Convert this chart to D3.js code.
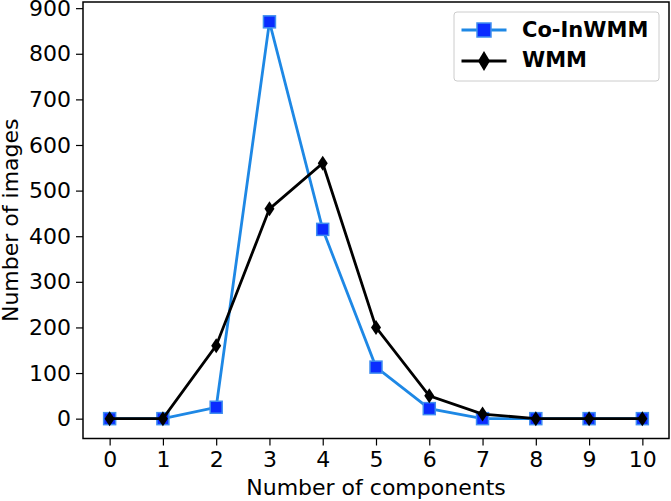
<!DOCTYPE html>
<html>
<head>
  <script src="https://d3js.org/d3.v7.min.js"></script>
  <style>
    body { margin: 0; background: #fff; }
    text { font-family: "DejaVu Sans", sans-serif; }
  </style>
</head>
<body>
  <div id="chart"></div>
  <script>
    // values
    const components = [0, 1, 2, 3, 4, 5, 6, 7, 8, 9, 10];
    const coInWMM = [0, 0, 25, 870, 415, 113, 22, 0, 0, 0, 0];
    const wmm = [0, 0, 160, 460, 560, 200, 50, 10, 0, 0, 0];
    const yTicks = [0, 100, 200, 300, 400, 500, 600, 700, 800, 900];

    const W = 671, H = 501;
    const plotL = 83, plotR = 669, plotT = 2, plotB = 438.5;
    const fs = "22px";

    const svg = d3.select("#chart").append("svg")
      .attr("width", W).attr("height", H);

    const x = d3.scaleLinear().domain([-0.5, 10.5]).range([plotL, plotR]);
    const y = d3.scaleLinear().domain([-43.5, 913.5]).range([plotB, plotT]);

    // axes
    const xAxis = svg.append("g")
      .attr("transform", "translate(0," + plotB + ")")
      .call(d3.axisBottom(x).tickValues(components).tickSize(7).tickPadding(6).tickFormat(d3.format("d")));
    const yAxis = svg.append("g")
      .attr("transform", "translate(" + plotL + ",0)")
      .call(d3.axisLeft(y).tickValues(yTicks).tickSize(7).tickPadding(5));

    [xAxis, yAxis].forEach(g => {
      g.select(".domain").remove();
      g.selectAll(".tick line").attr("stroke", "#000").attr("stroke-width", 1.2);
      g.selectAll(".tick text").attr("fill", "#000")
        .style("font-size", fs).style("font-family", "DejaVu Sans");
    });

    // frame
    svg.append("rect")
      .attr("x", plotL).attr("y", plotT)
      .attr("width", plotR - plotL).attr("height", plotB - plotT)
      .attr("fill", "none").attr("stroke", "#000").attr("stroke-width", 1.5);

    // axis labels
    svg.append("text")
      .attr("x", (plotL + plotR) / 2).attr("y", 495)
      .attr("text-anchor", "middle")
      .style("font-size", fs)
      .text("Number of components");
    svg.append("text")
      .attr("transform", "translate(18," + ((plotT + plotB) / 2) + ") rotate(-90)")
      .attr("text-anchor", "middle")
      .style("font-size", fs)
      .text("Number of images");

    const line = d3.line().x((d, i) => x(components[i])).y(d => y(d));

    // Co-InWMM
    svg.append("path").datum(coInWMM)
      .attr("d", line).attr("fill", "none")
      .attr("stroke", "#1e88e5").attr("stroke-width", 2.8);
    svg.selectAll(".sq").data(coInWMM).enter().append("rect")
      .attr("class", "sq")
      .attr("x", (d, i) => x(components[i]) - 6)
      .attr("y", d => y(d) - 6)
      .attr("width", 12).attr("height", 12)
      .attr("fill", "#0a2cff").attr("stroke", "#3f8ef0").attr("stroke-width", 1.5);

    // WMM
    svg.append("path").datum(wmm)
      .attr("d", line).attr("fill", "none")
      .attr("stroke", "#000").attr("stroke-width", 2.8);
    const diamond = "M0,-7.5L5,0L0,7.5L-5,0Z";
    svg.selectAll(".dm").data(wmm).enter().append("path")
      .attr("class", "dm")
      .attr("transform", (d, i) => "translate(" + x(components[i]) + "," + y(d) + ")")
      .attr("d", diamond).attr("fill", "#000");

    // legend (markers drawn a bit larger there)
    const lg = svg.append("g");
    lg.append("rect")
      .attr("x", 454).attr("y", 12).attr("width", 205).attr("height", 69)
      .attr("rx", 3).attr("fill", "#fff").attr("stroke", "#ccc").attr("stroke-width", 1);
    lg.append("line").attr("x1", 461.5).attr("x2", 506.5).attr("y1", 30).attr("y2", 30)
      .attr("stroke", "#1e88e5").attr("stroke-width", 2.8);
    lg.append("rect").attr("x", 477).attr("y", 23).attr("width", 14).attr("height", 14)
      .attr("fill", "#0a2cff").attr("stroke", "#3f8ef0").attr("stroke-width", 1.5);
    lg.append("line").attr("x1", 461.5).attr("x2", 506.5).attr("y1", 61).attr("y2", 61)
      .attr("stroke", "#000").attr("stroke-width", 2.8);
    lg.append("path").attr("transform", "translate(484,61)")
      .attr("d", "M0,-10L6,0L0,10L-6,0Z").attr("fill", "#000");
    lg.append("text").attr("x", 522).attr("y", 37)
      .style("font-size", "21px").style("font-weight", "bold").text("Co-InWMM");
    lg.append("text").attr("x", 522).attr("y", 67)
      .style("font-size", "21px").style("font-weight", "bold").text("WMM");
  </script>
</body>
</html>
